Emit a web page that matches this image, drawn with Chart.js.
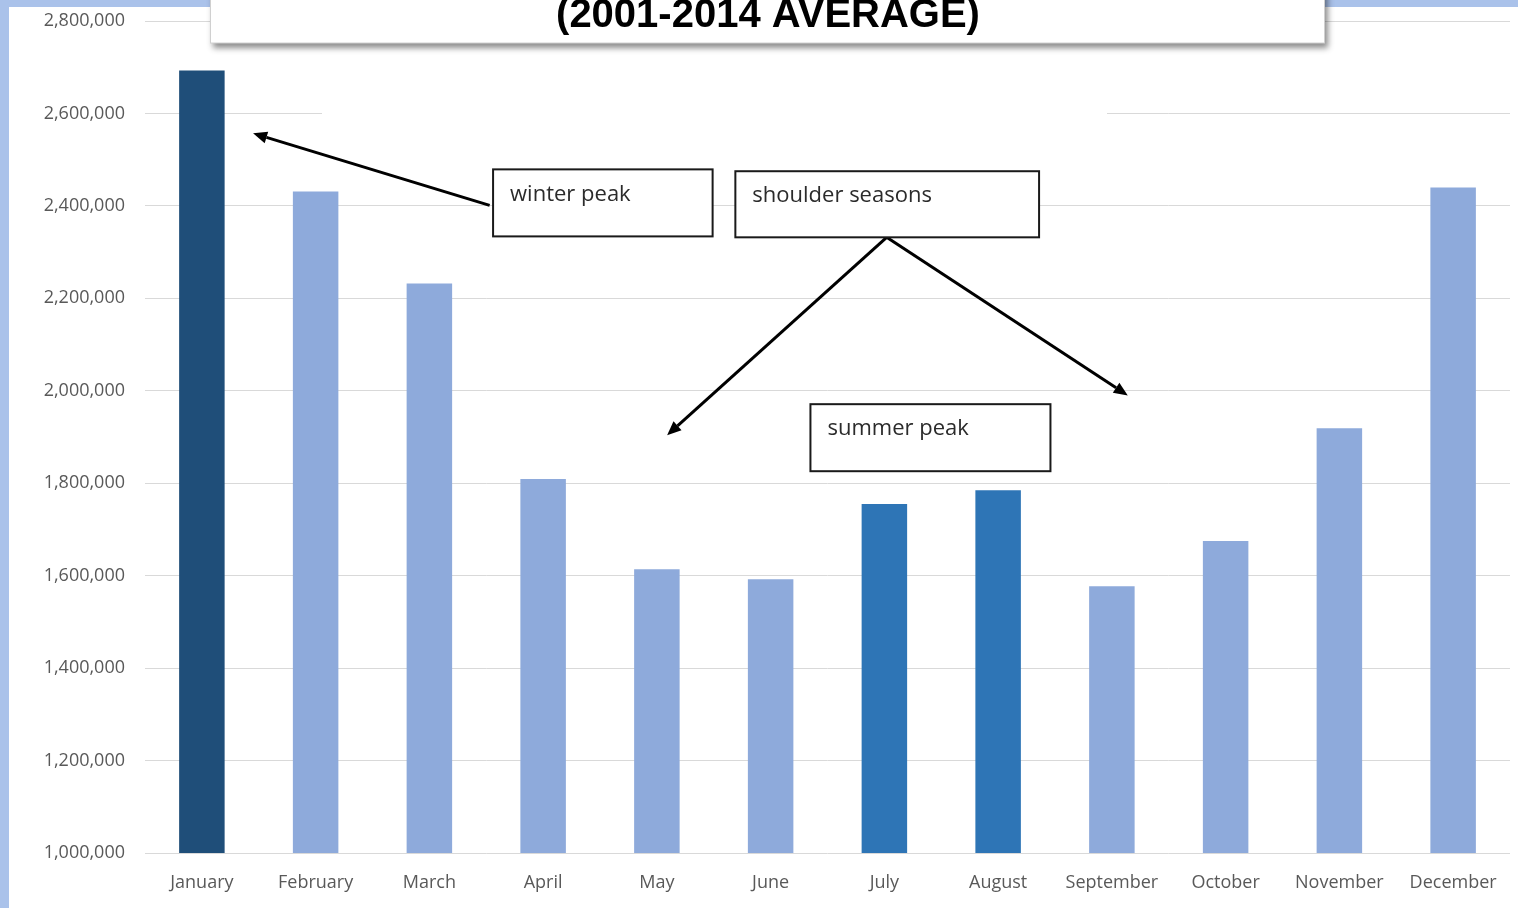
<!DOCTYPE html>
<html>
<head>
<meta charset="utf-8">
<title>Monthly average</title>
<script src="https://cdn.jsdelivr.net/npm/chart.js@4.4.1/dist/chart.umd.min.js"></script>
<style>
  html, body { margin: 0; padding: 0; background: #aac2ea; overflow: hidden; }
  #wrap { position: absolute; left: 0; top: 0; width: 1518px; height: 908px; }
</style>
</head>
<body>
<div id="wrap"><canvas id="chart"></canvas></div>
<script>
// monthly averages, 2001-2014
const months = ['January', 'February', 'March', 'April', 'May', 'June',
                'July', 'August', 'September', 'October', 'November', 'December'];
const averages = [2693000, 2431000, 2232000, 1809000, 1614000, 1592000,
                  1755000, 1785000, 1577000, 1675000, 1919000, 2440000];
const seasons = ['winter', '', '', '', '', '', 'summer', 'summer', '', '', '', ''];

const yMin = 1000000;
const yMax = 2800000;
const yStep = 200000;

const titleLine = '(2001-2014 AVERAGE)';

// callout boxes: [left index, right index, top value, bottom value]
const callouts = [
    { text: 'winter peak',      box: [2.56, 4.49, 2479000, 2334000] },
    { text: 'shoulder seasons', box: [4.69, 7.36, 2475000, 2332000] },
    { text: 'summer peak',      box: [5.35, 7.46, 1971000, 1826000] }
];
// arrows: [from index, from value, to index, to value]
const arrows = [
    [2.53, 2401000, 0.45, 2557000],
    [6.02, 2332000, 4.09, 1904000],
    [6.02, 2332000, 8.14, 1990000]
];

const seasonColor = { winter: '#1f4e79', summer: '#2e75b6', '': '#8eaadb' };

const canvas = document.getElementById('chart');
canvas.width = 1518;
canvas.height = 908;

function arrowLine(ctx, x1, y1, x2, y2) {
    const ang = Math.atan2(y2 - y1, x2 - x1);
    const head = 14, half = 6;
    const bx = x2 - head * Math.cos(ang), by = y2 - head * Math.sin(ang);
    ctx.beginPath();
    ctx.moveTo(x1, y1);
    ctx.lineTo(bx, by);
    ctx.stroke();
    ctx.beginPath();
    ctx.moveTo(x2, y2);
    ctx.lineTo(bx + half * Math.sin(ang), by - half * Math.cos(ang));
    ctx.lineTo(bx - half * Math.sin(ang), by + half * Math.cos(ang));
    ctx.closePath();
    ctx.fill();
}

const backdrop = {
    id: 'backdrop',
    beforeDraw(chart) {
        const ctx = chart.ctx;
        ctx.save();
        ctx.fillStyle = '#aac2ea';
        ctx.fillRect(0, 0, chart.width, chart.height);
        ctx.fillStyle = '#ffffff';
        ctx.fillRect(9, 7, chart.width - 9, chart.height - 7);
        ctx.restore();
    }
};

const overlays = {
    id: 'overlays',
    afterDraw(chart) {
        const ctx = chart.ctx;
        const xs = chart.scales.x, ys = chart.scales.y;
        const px = i => xs.getPixelForValue(i);
        const py = v => ys.getPixelForValue(v);

        ctx.save();
        // blank patch behind the heading
        ctx.fillStyle = '#ffffff';
        ctx.fillRect(322, 45, 785, 73);

        // heading box with drop shadow
        ctx.shadowColor = 'rgba(0,0,0,0.45)';
        ctx.shadowOffsetX = 3;
        ctx.shadowOffsetY = 5;
        ctx.shadowBlur = 6;
        ctx.fillStyle = '#ffffff';
        ctx.fillRect(210, -20, 1115, 63);
        ctx.shadowColor = 'transparent';
        ctx.strokeStyle = '#d0d0d0';
        ctx.lineWidth = 1;
        ctx.strokeRect(210.5, -20, 1114, 63);

        ctx.fillStyle = '#000000';
        ctx.font = 'bold 40px "Liberation Sans", Arial, sans-serif';
        ctx.textAlign = 'center';
        ctx.textBaseline = 'alphabetic';
        ctx.fillText(titleLine, 768, 27);

        // arrows
        ctx.strokeStyle = '#000000';
        ctx.fillStyle = '#000000';
        ctx.lineWidth = 3;
        arrows.forEach(a => arrowLine(ctx, px(a[0]), py(a[1]), px(a[2]), py(a[3])));

        // callout boxes
        ctx.font = '22px "Open Sans", sans-serif';
        ctx.textAlign = 'left';
        ctx.textBaseline = 'middle';
        callouts.forEach(c => {
            const l = px(c.box[0]), r = px(c.box[1]);
            const t = py(c.box[2]), b = py(c.box[3]);
            ctx.fillStyle = '#ffffff';
            ctx.fillRect(l, t, r - l, b - t);
            ctx.strokeStyle = '#1a1a1a';
            ctx.lineWidth = 2;
            ctx.strokeRect(l, t, r - l, b - t);
            ctx.fillStyle = '#2b2b2b';
            ctx.fillText(c.text, l + 17, t + 25);
        });
        ctx.restore();
    }
};

new Chart(canvas, {
    type: 'bar',
    data: {
        labels: months,
        datasets: [{
            data: averages,
            backgroundColor: seasons.map(s => seasonColor[s]),
            barPercentage: 0.4,
            categoryPercentage: 1.0,
            borderWidth: 0
        }]
    },
    options: {
        responsive: false,
        animation: false,
        devicePixelRatio: 1,
        layout: { padding: { top: 21, right: 8, left: 0, bottom: 0 } },
        plugins: {
            legend: { display: false },
            tooltip: { enabled: false },
            title: { display: false }
        },
        scales: {
            x: {
                grid: { display: false, drawTicks: false },
                border: { display: false },
                ticks: {
                    color: '#595959',
                    padding: 19,
                    font: { family: '"Open Sans", sans-serif', size: 18 }
                },
                afterFit(scale) { scale.height = 55; }
            },
            y: {
                min: yMin,
                max: yMax,
                grid: { color: '#d9d9d9', lineWidth: 1, drawTicks: false },
                border: { display: false },
                ticks: {
                    stepSize: yStep,
                    color: '#595959',
                    padding: 20,
                    font: { family: '"Open Sans", sans-serif', size: 18 },
                    callback: v => v.toLocaleString('en-US')
                },
                afterFit(scale) {
                    scale.width = 145;
                    scale.paddingTop = 0;
                    scale.paddingBottom = 0;
                }
            }
        }
    },
    plugins: [backdrop, overlays]
});
</script>
</body>
</html>
